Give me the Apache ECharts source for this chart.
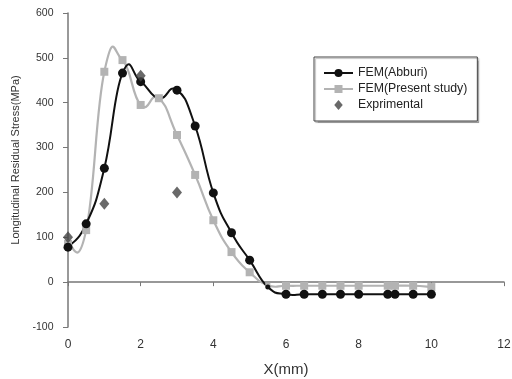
<!DOCTYPE html>
<html>
<head>
<meta charset="utf-8">
<script src="https://cdn.jsdelivr.net/npm/echarts@6/dist/echarts.min.js"></script>
<style>
  html, body { margin: 0; padding: 0; background: #fff; }
  #chart { width: 512px; height: 379px; }
</style>
</head>
<body>
<div id="chart"></div>
<script>
// Longitudinal residual stress along X, FEM results vs. measurements
const xAbburi = [0, 0.5, 1, 1.5, 2, 2.5, 3, 3.5, 4, 4.5, 5, 5.5, 6, 6.5, 7, 7.5, 8, 8.8, 9, 9.5, 10];
const stressAbburi = [78, 130, 254, 466, 447, 410, 428, 348, 199, 110, 49, -11, -27, -27, -27, -27, -27, -27, -27, -27, -27];

const xPresent = [0, 0.5, 1, 1.5, 2, 2.5, 3, 3.5, 4, 4.5, 5, 5.5, 6, 6.5, 7, 7.5, 8, 8.8, 9, 9.5, 10];
const stressPresent = [85, 116, 469, 495, 395, 410, 328, 239, 138, 67, 22, -7, -8, -8, -8, -8, -8, -8, -8, -8, -11];

const xExp = [0, 1, 2, 3];
const stressExp = [100, 175, 460, 200];

const xTicks = { min: 0, max: 12, interval: 2 };
const yTicks = { min: -100, max: 600, interval: 100 };

const pairs = (xs, ys) => xs.map((x, i) => [x, ys[i]]);

// Spreadsheet-style smoothed curve: cubic Bezier segments whose control
// points follow the neighbouring points (Catmull-Rom like), in pixel space.
const TENSION = 0.25;
function smoothCurve(xs, ys, color, width) {
  return function (params, api) {
    if (params.dataIndex !== 0) return null;
    const p = xs.map((x, i) => api.coord([x, ys[i]]));
    const n = p.length;
    let d = 'M' + p[0][0] + ',' + p[0][1];
    for (let i = 0; i < n - 1; i++) {
      const a = p[Math.max(i - 1, 0)], b = p[i], c = p[i + 1], e = p[Math.min(i + 2, n - 1)];
      const c1x = b[0] + (c[0] - a[0]) * TENSION, c1y = b[1] + (c[1] - a[1]) * TENSION;
      const c2x = c[0] - (e[0] - b[0]) * TENSION, c2y = c[1] - (e[1] - b[1]) * TENSION;
      d += 'C' + c1x + ',' + c1y + ',' + c2x + ',' + c2y + ',' + c[0] + ',' + c[1];
    }
    return {
      type: 'path',
      shape: { pathData: d },
      style: { fill: 'none', stroke: color, lineWidth: width }
    };
  };
}

const chart = echarts.init(document.getElementById('chart'), null, { renderer: 'canvas' });
const font = 'Liberation Sans, Arial, sans-serif';
const axisGray = '#777';
const black = '#111';
const gray = '#b3b3b3';

chart.setOption({
  animation: false,
  backgroundColor: '#fff',
  grid: { left: 68, right: 8, top: 13, bottom: 52, outerBoundsMode: 'none', containLabel: false },
  xAxis: {
    type: 'value',
    min: xTicks.min, max: xTicks.max, interval: xTicks.interval,
    name: 'X(mm)', nameLocation: 'middle', nameGap: 35,
    nameTextStyle: { fontFamily: font, fontSize: 15, color: '#333' },
    axisLine: { lineStyle: { color: axisGray, width: 1.5 } },
    axisTick: { show: true, length: 4, lineStyle: { color: axisGray } },
    axisLabel: { fontFamily: font, fontSize: 12, color: '#333', margin: 12 },
    splitLine: { show: false }
  },
  yAxis: {
    type: 'value',
    min: yTicks.min, max: yTicks.max, interval: yTicks.interval,
    name: 'Longitudinal Residual Stress(MPa)', nameLocation: 'middle', nameGap: 46,
    nameRotate: 90,
    nameTextStyle: { fontFamily: font, fontSize: 11, color: '#333', padding: [0, 0, 0, 20] },
    axisLine: { show: true, lineStyle: { color: axisGray, width: 1.5 } },
    axisTick: { show: true, length: 5, lineStyle: { color: axisGray } },
    axisLabel: { fontFamily: font, fontSize: 10.5, color: '#333', margin: 14.5 },
    splitLine: { show: false }
  },
  legend: {
    orient: 'vertical',
    left: 314, top: 57,
    padding: [10, 10, 10, 9],
    itemWidth: 29, itemHeight: 10, itemGap: 4,
    symbolKeepAspect: true,
    backgroundColor: '#fff',
    borderColor: '#444', borderWidth: 1, borderRadius: 0,
    shadowColor: 'rgba(0,0,0,0.25)', shadowOffsetX: 1.5, shadowOffsetY: 1.5, shadowBlur: 1,
    textStyle: { fontFamily: font, fontSize: 12.3, color: '#222' },
    data: [
      { name: 'FEM(Abburi)', lineStyle: { opacity: 1, color: black, width: 2 } },
      { name: 'FEM(Present study)', lineStyle: { opacity: 1, color: gray, width: 2 } },
      { name: 'Exprimental', icon: 'path://M0,-1L0.85,0L0,1L-0.85,0Z' }
    ]
  },
  series: [
    {
      name: 'present-curve',
      type: 'custom',
      data: pairs(xPresent, stressPresent),
      renderItem: smoothCurve(xPresent, stressPresent, gray, 2.2),
      silent: true,
      z: 1
    },
    {
      name: 'abburi-curve',
      type: 'custom',
      data: pairs(xAbburi, stressAbburi),
      renderItem: smoothCurve(xAbburi, stressAbburi, black, 2),
      silent: true,
      z: 2
    },
    {
      name: 'FEM(Present study)',
      type: 'line',
      data: pairs(xPresent, stressPresent),
      symbol: 'rect',
      symbolSize: (v, p) => (p.dataIndex === 11 ? 5 : 8),
      itemStyle: { color: gray },
      lineStyle: { opacity: 0 },
      z: 3
    },
    {
      name: 'FEM(Abburi)',
      type: 'line',
      data: pairs(xAbburi, stressAbburi),
      symbol: 'circle',
      symbolSize: (v, p) => (p.dataIndex === 11 ? 5 : (p.dataIndex === 5 ? 0 : 9)),
      itemStyle: { color: black },
      lineStyle: { opacity: 0 },
      z: 4
    },
    {
      name: 'Exprimental',
      type: 'scatter',
      data: pairs(xExp, stressExp),
      symbol: 'diamond',
      symbolSize: [10, 12],
      itemStyle: { color: '#444' },
      z: 5
    }
  ]
});
</script>
</body>
</html>
